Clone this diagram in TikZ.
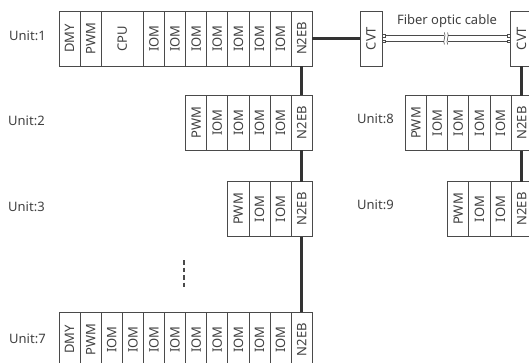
\documentclass[tikz,border=0pt]{standalone}
\usepackage{fontspec}
\setmainfont{Noto Sans}
\usepackage{graphicx}
\usetikzlibrary{positioning}

\definecolor{txtgray}{HTML}{404040}
\definecolor{linegray}{HTML}{4A4A4A}
\definecolor{busgray}{HTML}{333333}
\newcommand{\vlab}[1]{\rotatebox{90}{#1}}

\tikzset{
  module/.style={draw=linegray, line width=0.8pt, fill=white, outer sep=0pt,
    minimum width=21.1pt, minimum height=55pt, inner sep=0pt,
    text=txtgray, font=\fontsize{13}{13}\selectfont},
  unitlab/.style={text=txtgray, inner sep=0pt, font=\fontsize{13}{13}\selectfont},
  bus/.style={busgray, line width=3pt},
  fiber/.style={linegray, line width=0.8pt}
}

\begin{document}
\begin{tikzpicture}[x=1pt, y=-1pt]
  \def\cw{21.1}
  \def\rx{511}
  \useasboundingbox (0,0) rectangle (529,362);
  \clip (0,0) rectangle (529,362);

  % Unit 1
  \node[unitlab, anchor=west] (lab1) at (9,36) {Unit:1};
  \node[module] (u1-dmy) at ({59+0.5*\cw},38.5) {\vlab{DMY}};
  \node[module] (u1-pwm) at ({59+1.5*\cw},38.5) {\vlab{PWM}};
  \node[module, minimum width=42.2pt] (u1-cpu) at ({59+3*\cw},38.5) {\vlab{CPU}};
  \foreach \i in {4,...,10}
    \node[module] (u1-iom\i) at ({59+(\i+0.5)*\cw},38.5) {\vlab{IOM}};
  \node[module] (n2eb1) at ({59+11.5*\cw},38.5) {\vlab{N2EB}};

  % Unit 2
  \node[unitlab, anchor=west] (lab2) at (8,121) {Unit:2};
  \node[module] (u2-pwm) at ({59+6.5*\cw},122.5) {\vlab{PWM}};
  \foreach \i in {7,...,10}
    \node[module] (u2-iom\i) at ({59+(\i+0.5)*\cw},122.5) {\vlab{IOM}};
  \node[module] (n2eb2) at ({59+11.5*\cw},122.5) {\vlab{N2EB}};

  % Unit 3
  \node[unitlab, anchor=west] (lab3) at (8,207) {Unit:3};
  \node[module] (u3-pwm) at ({59+8.5*\cw},209) {\vlab{PWM}};
  \foreach \i in {9,10}
    \node[module] (u3-iom\i) at ({59+(\i+0.5)*\cw},209) {\vlab{IOM}};
  \node[module] (n2eb3) at ({59+11.5*\cw},209) {\vlab{N2EB}};

  % Unit 7
  \node[unitlab, anchor=west] (lab7) at (9,339) {Unit:7};
  \node[module] (u7-dmy) at ({59+0.5*\cw},339.5) {\vlab{DMY}};
  \node[module] (u7-pwm) at ({59+1.5*\cw},339.5) {\vlab{PWM}};
  \foreach \i in {2,...,10}
    \node[module] (u7-iom\i) at ({59+(\i+0.5)*\cw},339.5) {\vlab{IOM}};
  \node[module] (n2eb7) at ({59+11.5*\cw},339.5) {\vlab{N2EB}};

  % skipped units
  \coordinate (dtop) at (184,260);
  \coordinate (dbot) at (184,287);
  \draw[linegray, line width=1.4pt, dash pattern=on 4.5pt off 3pt] (dtop) -- (dbot);

  % converters
  \node[module, minimum width=22pt] (cvt1) at (371,38.5) {\vlab{CVT}};
  \node[module, minimum width=22pt] (cvt2) at ({\rx+0.5*\cw},38.5) {\vlab{CVT}};

  % Unit 8
  \node[unitlab, anchor=west] (lab8) at (357,119) {Unit:8};
  \node[module] (u8-pwm) at ({\rx-4.5*\cw},123) {\vlab{PWM}};
  \foreach \i in {1,...,4}
    \node[module] (u8-iom\i) at ({\rx-(\i-0.5)*\cw},123) {\vlab{IOM}};
  \node[module] (n2eb8) at ({\rx+0.5*\cw},123) {\vlab{N2EB}};

  % Unit 9
  \node[unitlab, anchor=west] (lab9) at (357,205) {Unit:9};
  \node[module] (u9-pwm) at ({\rx-2.5*\cw},209) {\vlab{PWM}};
  \foreach \i in {1,2}
    \node[module] (u9-iom\i) at ({\rx-(\i-0.5)*\cw},209) {\vlab{IOM}};
  \node[module] (n2eb9) at ({\rx+0.5*\cw},209) {\vlab{N2EB}};

  % N2 bus
  \draw[bus] (n2eb1.east) -- (cvt1.west);
  \draw[bus] (n2eb1.south) -- (n2eb2.north);
  \draw[bus] (n2eb2.south) -- (n2eb3.north);
  \draw[bus] (n2eb3.south) -- (n2eb7.north);
  \draw[bus] (cvt2.south) -- (n2eb8.north);
  \draw[bus] (n2eb8.south) -- (n2eb9.north);

  % fiber optic cable
  \foreach \s in {2.7,-2.7} {
    \draw[fiber] ([yshift=\s pt]cvt1.east) -- ([yshift=\s pt]cvt2.west);
    \draw[fiber, fill=white, line width=0.6pt] ([yshift=\s pt]cvt1.east) ++(0,-1.3) rectangle ++(3,2.6);
    \draw[fiber, fill=white, line width=0.6pt] ([yshift=\s pt]cvt2.west) ++(0,-1.3) rectangle ++(-3,2.6);
  }
  \coordinate (brk) at (446,38.5);
  \fill[white] ([xshift=-2pt, yshift=5pt]brk) rectangle ([xshift=2pt, yshift=-5pt]brk);
  \foreach \dx in {-1.6,1.6}
    \draw[fiber, line width=0.6pt] ([xshift=\dx pt, yshift=6pt]brk)
      .. controls +(2,3) and +(-2,-3) .. ([xshift=\dx pt, yshift=-6pt]brk);
  \node[unitlab] (fiblab) at (447,21) {Fiber optic cable};
\end{tikzpicture}
\end{document}
